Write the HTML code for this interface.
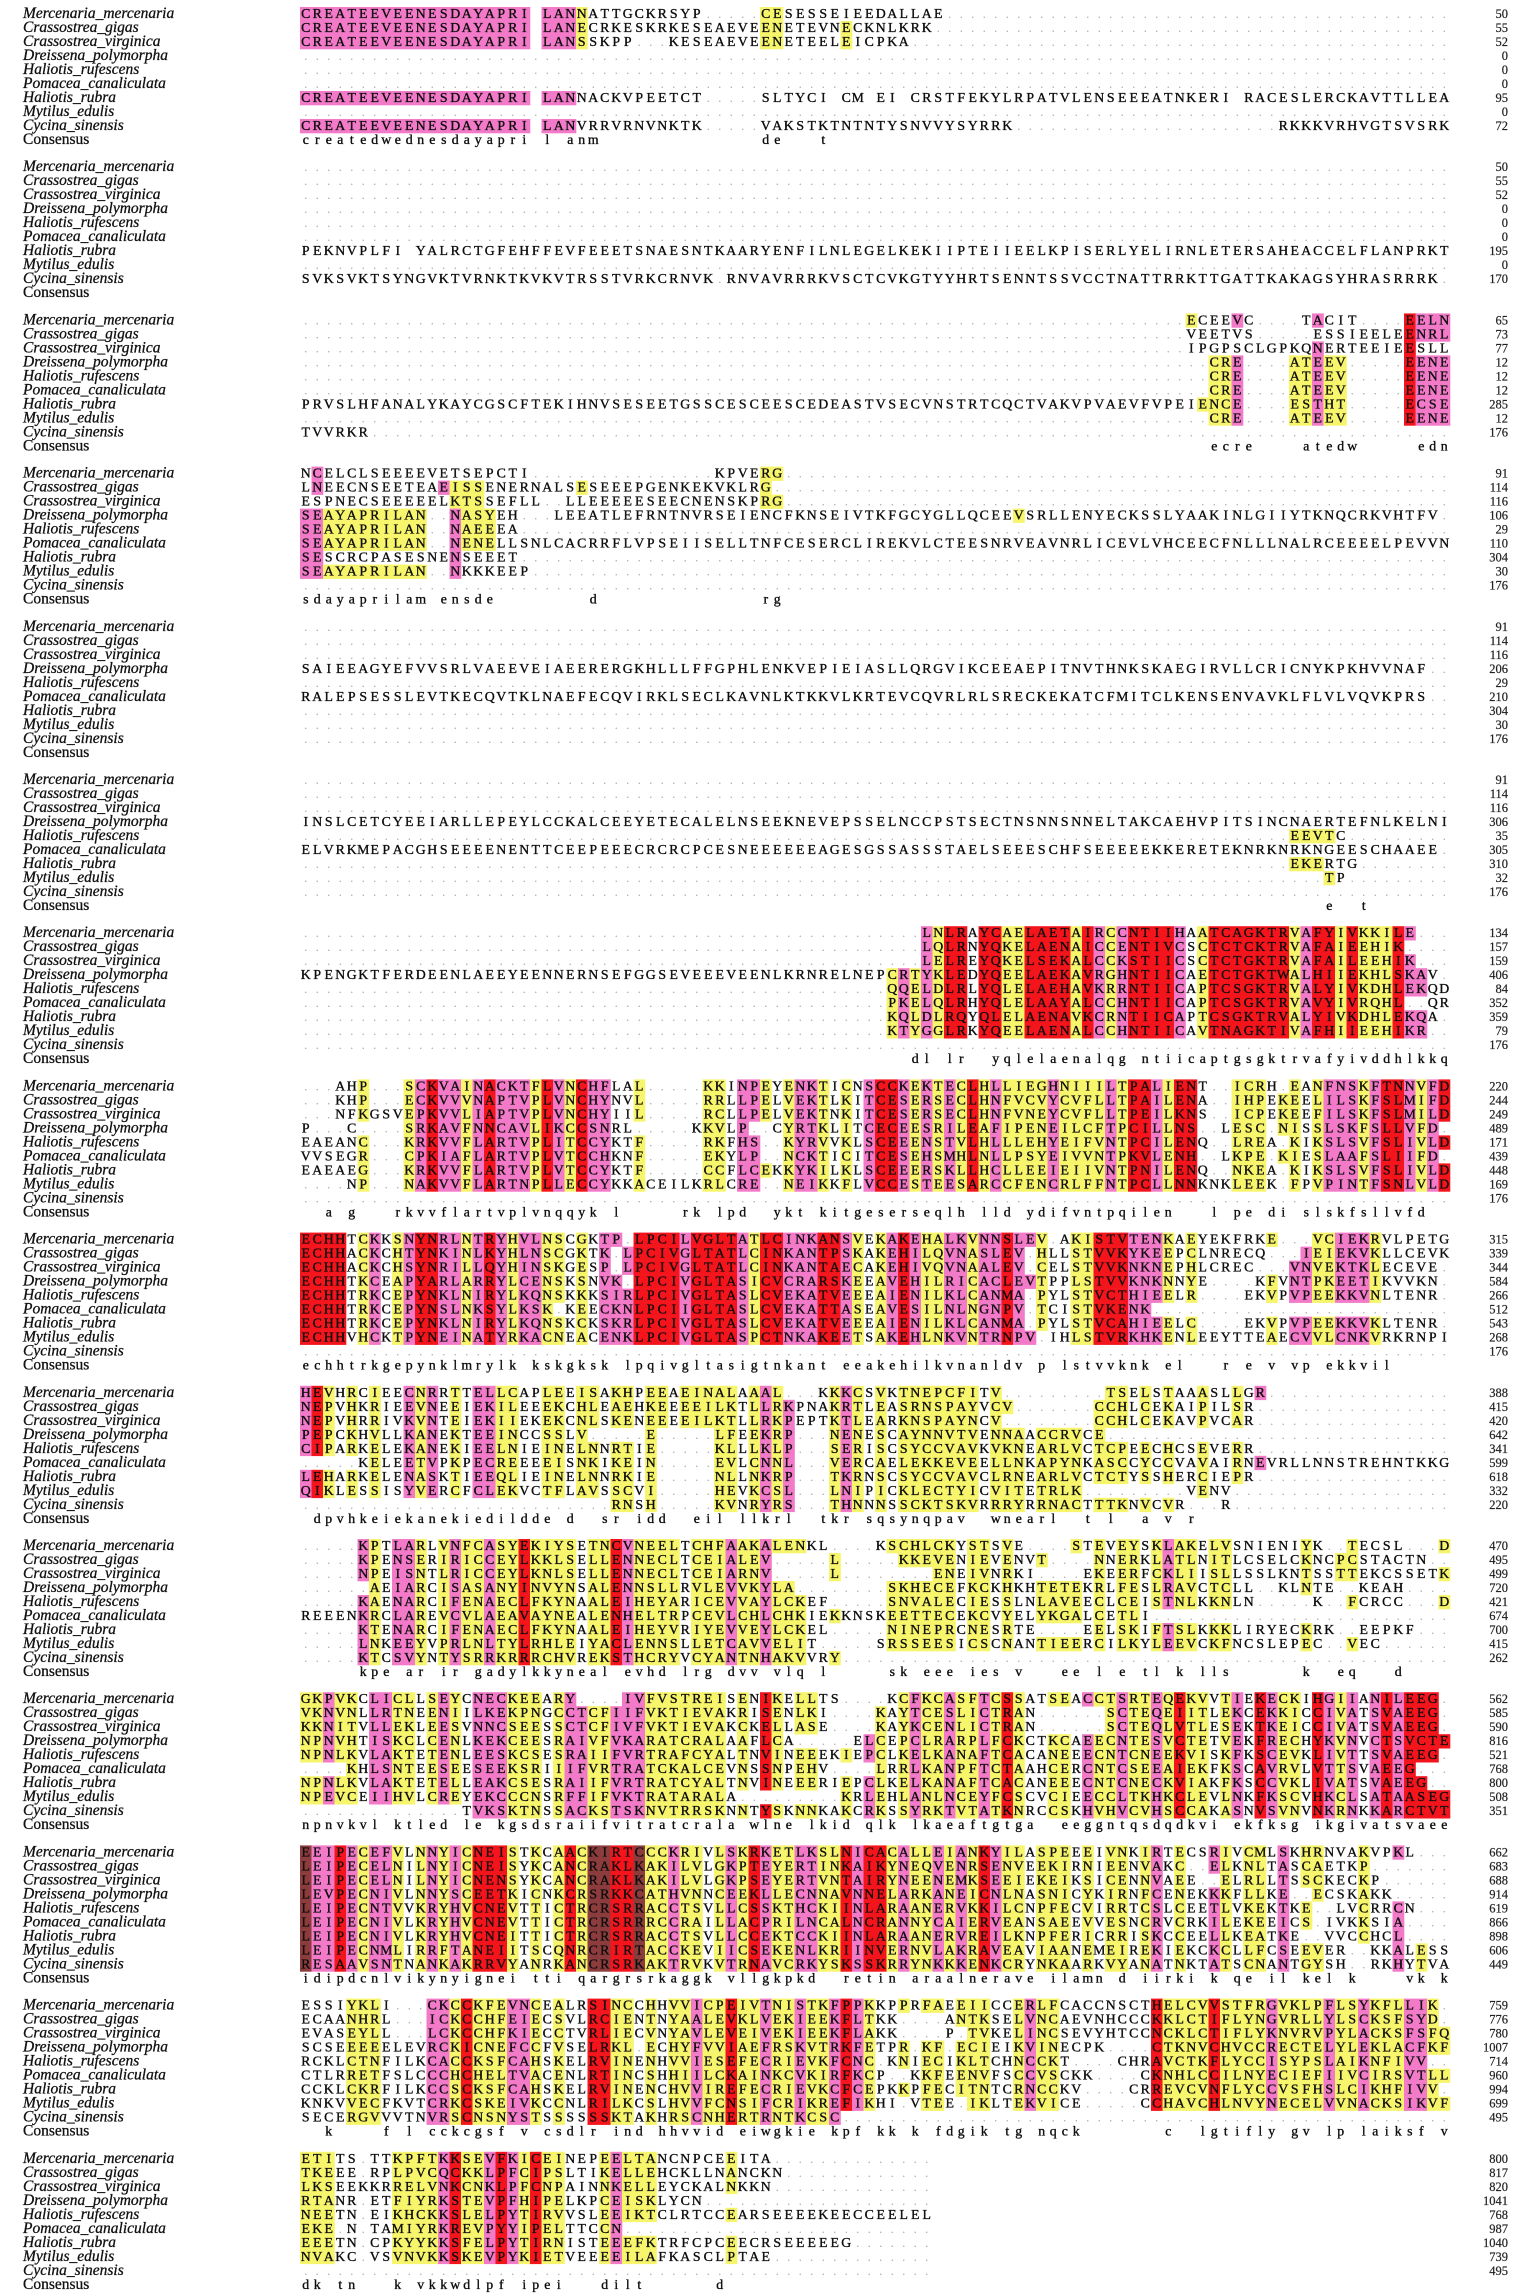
<!DOCTYPE html>
<html><head><meta charset="utf-8"><title>Multiple sequence alignment</title>
<style>
html,body{margin:0;padding:0;background:#fff;}
svg{display:block;}
.nm{font-family:"Liberation Serif",serif;font-style:italic;font-size:15.5px;fill:#111;stroke:#111;stroke-width:0.3px;}
.cn{font-family:"Liberation Serif",serif;font-size:15.5px;fill:#111;stroke:#111;stroke-width:0.3px;}
.res{font-family:"Liberation Serif",serif;font-size:13.8px;fill:#0d0d0d;stroke:#0d0d0d;stroke-width:0.35px;}
.dot{font-family:"Liberation Serif",serif;font-size:13px;fill:#aaa;}
.num{font-family:"Liberation Serif",serif;font-size:12.5px;fill:#222;stroke:#222;stroke-width:0.2px;}
</style></head>
<body>
<svg id="aln" xmlns="http://www.w3.org/2000/svg" width="1536" height="2294" viewBox="0 0 1536 2294"></svg>
<script>
const NAMES = ["Mercenaria_mercenaria","Crassostrea_gigas","Crassostrea_virginica","Dreissena_polymorpha","Haliotis_rufescens","Pomacea_canaliculata","Haliotis_rubra","Mytilus_edulis","Cycina_sinensis","Consensus"];

const BLOCK_NUMS = [
[50,55,52,0,0,0,95,0,72],
[50,55,52,0,0,0,195,0,170],
[65,73,77,12,12,12,285,12,176],
[91,114,116,106,29,110,304,30,176],
[91,114,116,206,29,210,304,30,176],
[91,114,116,306,35,305,310,32,176],
[134,157,159,406,84,352,359,79,176],
[220,244,249,489,171,439,448,169,176],
[315,339,344,584,266,512,543,268,176],
[388,415,420,642,341,599,618,332,220],
[470,495,499,720,421,674,700,415,262],
[562,585,590,816,521,768,800,508,351],
[662,683,688,914,619,866,898,606,449],
[759,776,780,1007,714,960,994,699,495],
[800,817,820,1041,768,987,1040,739,495]
];

const BLOCK_WIDTH = [100,100,100,100,100,100,100,100,100,100,100,100,100,100,55];

const BLOCK_ROWS = [
[ // 1
"CREATEEVEENESDAYAPRI LANNATTGCKRSYP.....CESESSEIEEDALLAE.",
"CREATEEVEENESDAYAPRI LANECRKESKRKESEAEVEENETEVNECKNLKRK.",
"CREATEEVEENESDAYAPRI LANSSKPP...KESEAEVEENETEELEICPKA.",
"","","",
"CREATEEVEENESDAYAPRI LANNACKVPEETCT.....SLTYCI CM EI CRSTFEKYLRPATVLENSEEEATNKERI RACESLERCKAVTTLLEAVLCD",
"",
[[0,"CREATEEVEENESDAYAPRI LANVRRVRNVNKTK."],[40,"VAKSTKTNTNTYSNVVYSYRRK."],[85,"RKKKVRHVGTSVSRK"]],
[[0,"createdwednesdayapri l anm"],[40,"de   t"]]
],
[ // 2
"","","","","","",
"PEKNVPLFI YALRCTGFEHFFEVFEEETSNAESNTKAARYENFILNLEGELKEKIIPTEIIEELKPISERLYELIRNLETERSAHEACCELFLANPRKT",
"",
"SVKSVKTSYNGVKTVRNKTKVKVTRSSTVRKCRNVK.RNVAVRRRKVSCTCVKGTYYHRTSENNTSSVCCTNATTRRKTTGATTKAKAGSYHRASRRRK",
""
],
[ // 3
[[77,"ECEEVC....TACIT....EELN"]],
[[77,"VEETVS.....ESSIEELEENRL"]],
[[77,"IPGPSCLGPKQNERTEEIEESLL"]],
[[79,"CRE....ATEEV.....EENE"]],
[[79,"CRE....ATEEV.....EENE"]],
[[79,"CRE....ATEEV.....EENE"]],
[[0,"PRVSLHFANALYKAYCGSCFTEKIHNVSESEETGSSCESCEESCEDEASTVSECVNSTRTCQCTVAKVPVAEVFVPEI"],[78,"ENCE....ESTHT.....ECSE"]],
[[79,"CRE....ATEEV.....EENE"]],
[[0,"TVVRKR."]],
[[79,"ecre    atedw     edne"]]
],
[ // 4
[[0,"NCELCLSEEEEVETSEPCTI."],[36,"KPVERG"]],
"LNEECNSEETEAEISSENERNALSESEEEPGENKEKVKLRG",
"ESPNECSEEEEELKTSSEFLL..LLEEEEESEECNENSKPRG",
"SEAYAPRILAN..NASYEH...LEEATLEFRNTNVRSEIENCFKNSEIVTKFGCYGLLQCEEVSRLLENYECKSSLYAAKINLGIIYTKNQCRKVHTFV",
"SEAYAPRILAN..NAEEEA.",
"SEAYAPRILAN..NENELLSNLCACRRFLVPSEIISELLTNFCESERCLIREKVLCTEESNRVEAVNRLICEVLVHCEECFNLLLNALRCEEEELPEVVN",
"SESCRCPASESNENSEEET.",
"SEAYAPRILAN..NKKKEEP.",
"",
[[0,"sdayaprilam ensde"],[25,"d"],[40,"rg"]]
],
[ // 5
"","","",
"SAIEEAGYEFVVSRLVAEEVEIAEERERGKHLLLFFGPHLENKVEPIEIASLLQRGVIKCEEAEPITNVTHNKSKAEGIRVLLCRICNYKPKHVVNAF",
"",
"RALEPSESSLEVTKECQVTKLNAEFECQVIRKLSECLKAVNLKTKKVLKRTEVCQVRLRLSRECKEKATCFMITCLKENSENVAVKLFLVLVQVKPRS",
"","","",""
],
[ // 6
"","","",
"INSLCETCYEEIARLLEPEYLCCKALCEEYETECALELNSEEKNEVEPSSELNCCPSTSECTNSNNSNNELTAKCAEHVPITSINCNAERTEFNLKELNI",
[[86,"EEVTC."]],
"ELVRKMEPACGHSEEEENENTTCEEPEEECRCRCPCESNEEEEEEAGESGSSASSSTAELSEEESCHFSEEEEEKKERETEKNRKNRKNGEESCHAAEE",
[[86,"EKERTG."]],
[[89,"TP."]],
"",
[[89,"e  t"]]
],
[ // 7
[[54,"LNLRAYCAELAETAIRCCNTIIHAATCAGKTRVAFYIVKKILE.."]],
[[54,"LQLRNYQKELAENAICCENTIVCSCTCTCKTRVAFAIEEHIK.."]],
[[54,"LELREYQKELSEKALCCKSTIICSCTCTGKTRVAFAILEEHIK."]],
"KPENGKTFERDEENLAEEYEENNERNSEFGGSEVEEEVEENLKRNRELNEPCRTYKLEDYQEELAEKAVRGHNTIICAETCTGKTWALHIIEKHLSKAV",
[[51,"QQELDLRLYQLELAEHAVKRRNTIICAPTCSGKTRVALYIVKDHLEKQD"]],
[[51,"PKELQLRHYQLELAAYALCCHNTIICAPTCSGKTRVAVYIVRQHL..QR"]],
[[51,"KQLDLRQYQLELAENAVKCRNTIICAPTCSGKTRVALYIVKDHLEKQA"]],
[[51,"KTYGGLRKYQEELAENALCCHNTIICAVTNAGKTIVAFHIIEEHIKR.."]],
"",
[[53,"dl lr  yqlelaenalqg ntiicaptgsgktrvafyivddhlkkq"]]
],
[ // 8
"...AHP...SCKVAINACKTFLVNCHFLAL.....KKINPEYENKTICNSCCKEKTECLHLLIEGHNIIILTPALIENT..ICRH.EANFNSKFTNNVFD",
"...KHP...ECKVVVNAPTVPLVNCHYNVL.....RRLLPELVEKTLKITCESERSECLHNFVCVYCVFLLTPAILENA..IHPEKEELILSKFSLMIFD",
"...NFKGSVEPKVVLIAPTVPLVNCHYIIL.....RCLLPELVEKTNKITCESERSECLHNFVNEYCVFLLTPEILKNS..ICPEKEEFILSKFSLMILD",
"P...C....SRKAVFNNCAVLIKCCSNRL.....KKVLP..CYRTKLITCECEESRILEAFIPENEILCFTPCILLNS..LESC.NISSLSKFSLLVFD",
"EAEANC...KRKVVFLARTVPLITCCYKTF.....RKFHS..KYRVVKLSCEEENSTVLHLLLEHYEIFVNTPCILENQ..LREA.KIKSLSVFSLIVLD",
"VVSEGR...CPKIAFLARTVPLVTCCHKNF.....EKYLP..NCKTICITCESEHSMHLNLLPSYEIVVNTPKVLENH..LKPE.KIESLAAFSLIIFD",
"EAEAEG...KRKVVFLARTVPLVTCCYKTF.....CCFLCEKKYKILKLSCEEERSKLLHCLLEEIEIIVNTPNILENQ..NKEA.KIKSLSVFSLIVLD",
"....NP...NAKVVFLARTNPLLECCYKKACEILKRLCRE..NEIKKFLVCCESTEESARCCFENCRLFFNTPCLLNNKNKLEEK.FPVPINTFSNLVLD",
"",
"  a g   rkvvflartvplvnqqyk l     rk lpd  ykt kitgeserseqlh lld ydifvntpqilen   l pe di slskfsllvfd"
],
[ // 9
"ECHHTCKKSNYNRLNTRYHVLNSCGKTP.LPCILVGLTATLCINKANSVEKAKEHALKVNNSLEV.AKISTVTENKAEYEKFRKE...VCIEKRVLPETGE",
"ECHHACKCHTYNKINLKYHLNSCGKTK.LPCIVGLTATLCINKANTPSKAKEHILQVNASLEV.HLLSTVVKYKEEPCLNRECQ...IEIEKVKLLCEVK",
"ECHHACKCHSYNRILLQYHINSKGESP.LPCIVGLTATLCINKANTAECAKEHIVQVNAALEV.CELSTVVKNKNEPHLCREC...VNVEKTKLECEVE",
"ECHHTKCEAPYARLARRYLCENSKSNVK.LPCIVGLTASICVCRARSKEEAVEHILRICACLEVTPPLSTVVKNKNNYE....KFVNTPKEETIKVVKN",
"ECHHTRKCEPYNKLNIRYLKQNSKKKSIRLPCIVGLTASLCVEKATVEEEAIENILKLCANMA.PYLSTVCTHIEELR....EKVPVPEEKKVNLTENR",
"ECHHTRKCEPYNSLNKSYLKSK.KEECKNLPCIIGLTASLCVEKATTASEAVESILNLNGNPV.TCISTVKENK.",
"ECHHTRKCEPYNKLNIRYLKQNSKCKSKRLPCIVGLTASLCVEKATVEEEAIENILKLCANMA.PYLSTVCAHIEELC....EKVPVPEEKKVKLTENR",
"ECHHVHCKTPYNEINATYRKACNEACENKLPCIVGLTASPCTNKAKEETSAKEHLNKVNTRNPV.IHLSTVRKHKENLEEYTTEAECVVLCNKVRKRNPI",
"",
"echhtrkgepynklmrylk kskgksk lpqivgltasigtnkant eeakehilkvnanldv p lstvvknk el   r e v vp ekkvil"
],
[ // 10
"HEVHRCIEECNRRTTELLCAPLEEISAKHPEEAEINALAAAL...KKKCSVKTNEPCFITV.........TSELSTAAASLLGR.",
"NEPVHKRIEEVNEEIEKILEEEKCHLEAEHKEEEEILKTLLRKPNAKRTLEASRNSPAYVCV.......CCHLCEKAIPILSR.",
"NEPVHRRIVKVNTEIEKIIEKEKCNLSKENEEEEILKTLLRKPEPTKTLEARKNSPAYNCV........CCHLCEKAVPVCAR.",
"PEPCKHVLLKANEKTEEINCCSSLV.....E.....LFEEKRP...NENESCAYNNVTVENNAACCRVCE.",
"CIPARKELEKANEKIEELNIEINELNNRTIE.....KLLLKLP...SERISCSYCCVAVKVKNEARLVCTCPEECHCSEVERR.",
".....KELEETVPKPECREEEEISNKIKEIN.....EVLCNNL...VERCAELEKKEVEELLNKAPYNKASCCYCCVAVAIRNEVRLLNNSTREHNTKKG",
"LEHARKELENASKTIEEQLIEINELNNRKIE.....NLLNKRP...TKRNSCSYCCVAVCLRNEARLVCTCTYSSHERCIEPR.",
"QIKLESSISYVERCFCLEKVCTFLAVSSCVI.....HEVKCSL...LNIPICKLECTYICVITETRLK.........VENV.",
"...........................RNSH.....KVNRYRS...THNNNSSCKTSKVRRRYRRNACTTTKNVCVR...R.",
" dpvhkeiekanekiedildde d  sr idd  eil llkrl  tkr sqsynqpav  wnearl  t l  a v r"
],
[ // 11
".....KPTLARLVNFCASYEKIYSETNCVNEELTCHFAAKALENKL....KSCHLCKYSTSVE....STEVEYSKLAKELVSNIENIYK..TECSL...D",
".....KPENSERIRICCEYLKKLSELLENNECLTCEIALEV.....L.....KKEVENIEVENVT....NNERKLATLNITLCSELCKNCPCSTACTN..S",
".....NPEISNTLRICCEYLKNLSELLENNECLTCEIARNV.....L........ENEIVNRKI....EKEERFCKLIISLLSSLKNTSSTTEKCSSETKS",
"......AEIARCISASANYINVYNSALENNSLLRVLEVVKYLA........SKHECEFKCKHKHTETEKRLFESLRAVCTCLL..KLNTE..KEAH.",
".....KAENARCIFENAECLFKYNAALEIHEYARICEVVAYLCKEF.....SNVALECIESSLNLAVEECLCEISTNLKKNLN.....K..FCRCC...D",
"REEENKRCLAREVCVLAEAVAYNEALENHELTRPCEVLCHLCHKIEKKNSKEETTECEKCVYELYKGALCETLI.",
".....KTENARCIFENAECLFKYNAALEIHEYVRIYEVVEYLCKEL.....NINEPRCNESRTE....EELSKIFTSLKKKLIRYECKRK..EEPKF...D",
".....LNKEEYVPRLNLTYLRHLEIYACLENNSLLETCAVVELIT.....SRSSEESICSCNANTIEERCILKYLEEVCKFNCSLEPEC..VEC.",
".....KTCSVYNTYSRRKRRRCHVREKSTHCRYVCYANTNHAKVVRY.",
"     kpe ar ir gadylkkyneal evhd lrg dvv vlq l     sk eee ies v   ee l e tl k lls      k  eq   d"
],
[ // 12
"GKPVKCLICLLSEYCNECKEEARY....IVFVSTREISENIKELLTS....KCFKCASFTCSSATSEACCTSRTEQEKVVTIEKECKIHGIIANILEEG",
"VKNVNLLRTNEENIILKEKPNGCCTCFIIFVKTIEVAKRISENLKI....KAYTCESLICTRAN......SCTEQEIITLEKCEKKICCIVATSVAEEG",
"KKNITVLLEKLEESVNNCSEESSCTCFIVFVKTIEVAKCKELLASE....KAYKCENLICTRAN......SCTEQLVTLESEKTKEICCIVATSVAEEG",
"NPNVHTISKCLCENLKEKCEESRAIVFVKARATCRALAAFLCA.....ELCEPCLRARPLFCKCTKCAEECNTESVCTETVEKFRECHYKVNVCTSVCTEG",
"NPNLKVLAKTETENLEESKCSESRAIIFVRTRAFCYALTNVINEEEKIEPCLKELKANAFTCACANEEECNTCNEEKVISKFKSCEVKLIVTTSVAEEG",
"....KHLSNTEESEESEEKSRIIIFVRTRATCKALCEVNSSNPEHV....LRRLKANPFTCTAAHCERCNTCSEEAIEKFKSCAVRVLVTTSVAEEG",
"NPNLKVLAKTETELLEAKCSESRAIIFVRTRATCYALTNVINEEERIEPCLKELKANAFTCACANEEECNTCNECKVIAKFKSCCVKLIVATSVAEEG",
"NPEVCEIIHVLCREYEKCCCNSRFFIFVKTRATARALA.........KRLEHLANLNCEYFCSCVCIEECCLTKHKCLEVLNKFKSCVHKCLSATAASEG",
"..............TVKSKTNSSACKSTSKNVTRRSKNNTYSKNNKAKCRKSSYRKTVTATKNRCCSKHVHVCVHSCCAKASNVSVNVNKRNKKARCTVTVK",
"npnvkvl ktled le kgsdsraiifvitratcrala wlne lkid qlk lkaeaftgtga  eeggntqsdqdkvi ekfksg ikgivatsvaeeg"
],
[ // 13
"EEIPECEFVLNNYICNEISTKCAACKIRTCCCKRIVLSKRKETLKSLNICACALLEIANKYILASPEEEIVNKIRTECSRIVCMLSKHRNVAKVPKL",
"LEIPECELNILNYICNEISYKCANCRAKLKAKILVLGKPTEYERTINKAIKYNEQVENRSENVEEKIRNIEENVAKC..ELKNLTASCAETKP",
"LEIPECELNILNYICNENSYKCANCRAKLKAKILVLGKPSEYERTVNTAIRYNEENEMKSEEIEKEIKSICENNVAEE..ELRLLTSSCKECKP",
"LEVPECNIVLNNYSCEETKICNKCRSRKKCATHVNNCEEKLLECNNAVNNELARKANEICNLNASNICYKIRNFCENEKKKFLLKE..ECSKAKK",
"LEIPECNTVVKRYHVCNEVTTICTRCRSRRACCTSVLLCSSKTHCKIINLARAANERVKKILCNPFECVIRRTCSLCEETLVKEKTKE..LVCRRCN",
"LEIPECNIVLKRYHVCNEVTTICTRCRSRRRCCRAILLACPRILNCALNCRANNYCAIERVEANSAEEVVESNCRVCRKILEKEEICS.IVKKSIA",
"LEIPECNIVLKRYHVCNEITTICTRCRSRRACCTSVLLCCEKTCCKIINLARAANERVREILKNPFERICRRISKCCEELLKEATKE..VVCCHCL",
"LEIPECNMLIRRFTANEIITSCQNRCRIRTACCKEVIICSEKENLKRIINVERNVLAKRAVEAVIAANEMEIREKIEKCKCLLFCSEEVER..KKALESS",
"RESAAVSNTNANKAKRRVYANRKANCRSRKAKTRVKVTRNAVCRKYSKSSKRRYNKKKENKCRYNKAARKVYANATNKTATSCNANTGYSH..RKHYTVA",
"idipdcnlvikynyignei tti qargrsrkaggk vllgkpkd  retin araalnerave ilamn d iirki k qe il kel k    vk k"
],
[ // 14
"ESSIYKLI...CKCCKFEVNCEALRSINCCHHVVICPEIVTNISTKFPPKKPPRFAEEIICCERLFCACCNSCTHELCVVSTFRGVKLPFLSYKFLLIK",
"ECAANHRL...ICKCCHFEIECSVLRCIENTNYAALEVKLVEKIEEKFLTKK....ANTKSELVNCAEVNHCCCKKLCTIFLYNGVRLLYLSCKSFSYD",
"EVASEYLL...LCKCCHFKIECCTVRLIECVNYAVLEVEIVEKIEEKFLAKK....P.TVKELINCSEVYHTCCNCKLCTIFLYKNVRVPYLACKSFSFQ",
"SCSEEEEELEVRCKICNEFCCFVSELRKL.ECHYFVVIAEFRSKVTRKFETPR.KF.ECIEIKVINECPK....CTKNVCHVCCRECTELYLEKLACFKFV",
"RCKLCTNFILKCACCKSFCAHSKELRVINENHVVIESEFECRIEVKFCNC.KNIECIKLTCHNCCKT....CHRAVCTKFLYCCISYPSLAIKNFIVV",
"CTLRRETFSLCCCHCHELTVACENLRTINCSHHIILCKAINKCVKIRFKCP..KKFEENVFSCCVSCKK....CKNHLCCILNYECIEFIIVCIRSVTLL",
"CCKLCKRFILKCCSCKSFCAHSKELRVINENCHVVIREFECRIEVKCFCEPKKPFECITNTCRNCCKV....CRREVCVNFLYCCVSFHSLCIKHFIVV",
"KNKVVECFKVTCRKCSKEIVKCCNLRILKCSLHVVFCNSIFCRIKREFIKHI.VTEE.IKLTEKVICE.....CCHAVCHLNVYNECELVVNACKSIKVF",
"SECERGVVVTNVRSCNSNYSTSSSSSSKTAKHRSCNHERTRNTKCSC.",
"  k    f l cckcgsf v csdlr ind hhvvid eiwgkie kpf kk k fdgik tg nqck       c  lgtifly gv lp laiksf vv"
],
[ // 15
"ETITS.TTKPFTKKSEVFKICEINEPEELTANCNPCEEITA.",
"TKEEE.RPLPVCQCKKLPFCIPSLTIKELLEHCKLLNANCKN.",
"LKSEEKKRRELVNKCNKLPFCNPAINNKELLEYCKALNKKN.",
"RTANR.ETFIYRKSTEVPFHIPELKPCEISKLYCN.",
"NEETN.EIKHCKKSLELPYTIRVVSLEEIKTCLRTCCEARSEEEEKEECCEELEL",
"EKE.N.TAMIYRKREVPYYIPELTTCCN.",
"EEETN.CPKYYKKSFELPYTIRNISTEEEFKTRFCPCEECRSEEEEEG.",
"NVAKC.VSVNVKKSKEVPYKIETVEEEEILAFKASCLPTAE.",
"",
"dk tn   k vkkwdlpf ipei   dilt      d"
]
];

const BLOCK_COLS = [
null,null,null,null,null,null,
"          |          |          |          |          | YPYPYRR R|RYYRRRRYRP|YPRRRRP YR|RRRRRRYPRR|YRYYYRPP  ",
"     Y   Y|PRPPYPRPPP|YRPYRPP  Y|     YY PP|Y YPPY Y P|RRPYPYPYRY|PYYYYPYYYY|PYRRPYRR  | YYY YY YP|PPYPRRPYPR",
"RRRR YP YP|RRPPYPRPYP|PYY Y PPPR|RRRPRRRRPY|RRPPPRRPY |YPRPYYPPYP|PRPPY  YYR|RRPPPY Y  |    Y PPYY|PPPY      ",
"PRY Y Y  P|YP Y PPYY | YY YY YY |YY YYYYY Y|PYP   YPY |Y YYYYYYY |YYY YYYY Y|YY Y Y  Y | Y P      |          ",
"     PY PP|Y YPYYPYYR|YYYY YYRPY|YYY YYYPYY|PYYY  Y   | YYYYYY YY| Y  YYYY Y| YY YPYY Y|Y      Y  |YY       Y",
"YYPYY PPYY| YPY PPPYY|Y YPPYYPPP|YYYYYYY Y |RY YY  Y P|Y YPYYPYYP|YRY  YY PY|YPYYPYRYY |YP RPYY RP|YP PRPRRRR",
"BPPRPYPPY |YPYPYRRRY |Y YRYBBRRB|YYPYY YPYR|PYYPPYYRPR|RYPYYPYPYR|PYY YYY Y |YY YP Y  P|Y YY P YY |  Y  P Y  ",
"    YYY   | PPYRYYYPP|Y Y  RRYY |Y YYPYYRYY|PYYPYYPRPY|  Y YY YYY|  YPYY    |    RYYYYR|YYYYPYYYYP|YYPYYYPPYY",
"YYY     YY|YYPRYYPRPY|RYY   YPYY|Y      Y  |          |     "
];

const BLOCK_RANGES = [
[[0,23,"P","01268"],[24,24,"Y","012"],[40,41,"Y","012"],[47,47,"Y","12"]],
[],
[[77,77,"Y","0"],[79,80,"Y","34567"],[81,81,"P","034567"],[86,87,"Y","34567"],[88,88,"P","2034567"],[89,90,"Y","34567"],[78,78,"Y","6"],[96,96,"R","01234567"],[97,99,"P","0134567"]],
[[0,1,"P","34567"],[1,1,"P","01"],[2,10,"Y","3457"],[13,13,"P","34567"],[14,16,"Y","345"],[13,15,"Y","12"],[12,12,"P","1"],[20,20,"Y","0"],[24,24,"Y","01"],[40,41,"Y","012"],[62,62,"Y","3"]],
[],
[[86,88,"Y","46"],[89,89,"Y","47"]],
[],[],[],[],[],[],[],[],[]
];

const COLOR_MAP = {R:"#f4141c",P:"#f27ac8",Y:"#f7f56c",B:"#8c3c3c"};
const X0 = 300, CW = 11.5, Y0 = 18, BLOCK_H = 153.2, ROW_H = 14.0;
const NS = "http://www.w3.org/2000/svg";
const svg = document.getElementById("aln");

function expandRow(spec, width) {
  const arr = new Array(width).fill(".");
  if (typeof spec === "string") spec = spec.length ? [[0, spec]] : [];
  spec.forEach(([c, t]) => {
    for (let i = 0; i < t.length && c + i < width; i++) arr[c + i] = t[i];
  });
  return arr;
}
function mk(tag, attrs) {
  const e = document.createElementNS(NS, tag);
  for (const k in attrs) e.setAttribute(k, attrs[k]);
  return e;
}

BLOCK_ROWS.forEach((rows, b) => {
  const g = mk("g", {});
  
  
  svg.appendChild(g);
  const width = BLOCK_WIDTH[b];
  const colStr = BLOCK_COLS[b] ? BLOCK_COLS[b].replace(/\|/g, "").padEnd(100, " ") : null;
  const grid = rows.map((spec, r) => {
    if (r === 9) {
      const a = new Array(width).fill(" ");
      let s = typeof spec === "string" ? [[0, spec]] : spec;
      s.forEach(([c, t]) => { for (let i = 0; i < t.length && c + i < width; i++) a[c + i] = t[i]; });
      return a;
    }
    return expandRow(spec, width);
  });
  const bg = mk("g", {});
  
  
  g.appendChild(bg);
  const cellColor = (r, c) => {
    let col = null;
    if (colStr && r < 9 && colStr[c] !== " ") col = colStr[c];
    (BLOCK_RANGES[b] || []).forEach(([c0, c1, cc, rs]) => {
      if (c >= c0 && c <= c1 && rs.indexOf(String(r)) >= 0) col = cc;
    });
    return col;
  };
  for (let r = 0; r < 9; r++) {
    const base = Y0 + b * BLOCK_H + r * ROW_H;
    for (let c = 0; c < width; c++) {
      const ch = grid[r][c];
      if (!/[A-Z]/.test(ch)) continue;
      const cc = cellColor(r, c);
      if (!cc) continue;
      const rect = mk("rect", {x: (X0 + c * CW).toFixed(2), y: (base - 11).toFixed(2), width: (CW + 0.3).toFixed(2), height: (ROW_H + 0.3).toFixed(2), fill: COLOR_MAP[cc]});
      
      
      bg.appendChild(rect);
    }
  }
  grid.forEach((arr, r) => {
    const base = Y0 + b * BLOCK_H + r * ROW_H;
    const name = mk("text", {x: 23, y: base.toFixed(2), class: r === 9 ? "cn" : "nm"});
    
    
    name.textContent = NAMES[r];
    g.appendChild(name);
    const lx = [], lt = [], dx = [], dt = [];
    arr.forEach((ch, c) => {
      const x = (X0 + c * CW + CW / 2).toFixed(2);
      if (ch === ".") { dx.push(x); dt.push("."); }
      else if (ch !== " ") { lx.push(x); lt.push(ch); }
    });
    if (dt.length) {
      const d = mk("text", {x: dx.join(" "), y: base.toFixed(2), class: "dot", "text-anchor": "middle"});
      
      
      d.textContent = dt.join("");
      g.appendChild(d);
    }
    if (lt.length) {
      const t = mk("text", {x: lx.join(" "), y: base.toFixed(2), class: "res", "text-anchor": "middle"});
      
      
      t.textContent = lt.join("");
      g.appendChild(t);
    }
    if (r < 9) {
      const n = mk("text", {x: 1508, y: base.toFixed(2), class: "num", "text-anchor": "end"});
      
      
      n.textContent = BLOCK_NUMS[b][r];
      g.appendChild(n);
    }
  });
});
</script>
</body></html>
